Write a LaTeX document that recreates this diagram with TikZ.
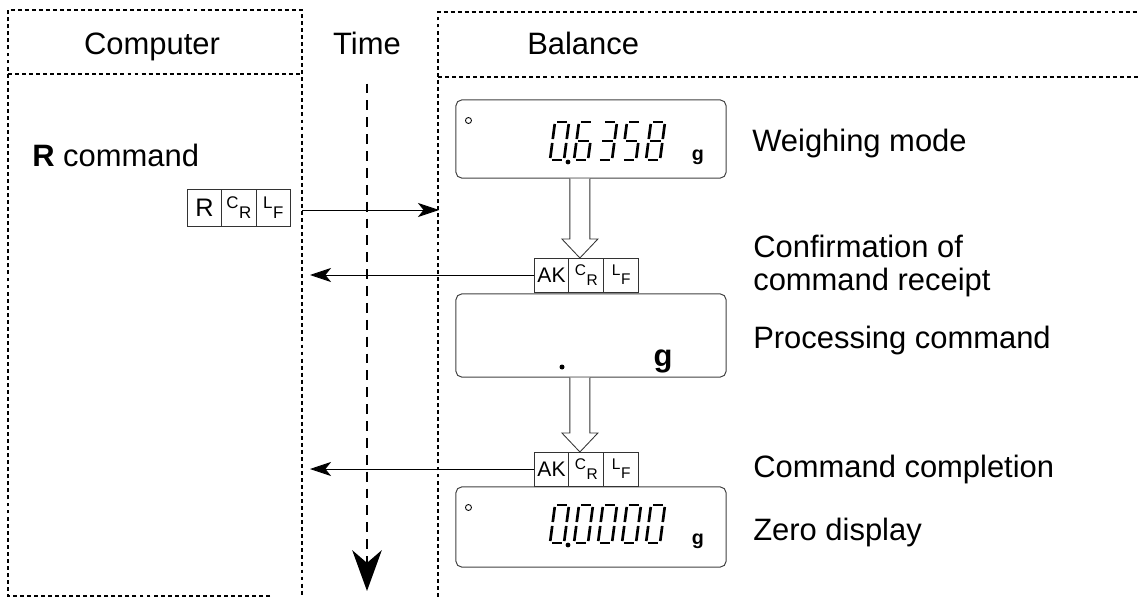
\documentclass[tikz,border=0pt]{standalone}
\usepackage{fontspec}
\setmainfont{Liberation Sans}
\usetikzlibrary{calc, positioning}
\usetikzlibrary{arrows.meta}

% segment lists of the display digits
\def\dzero{tl/tr,tr/mr,mr/br,bl/br,bl/ml,ml/tl}
\def\dsix{tl/tr,mr/br,bl/br,bl/ml,ml/tl,ml/mr}
\def\dthree{tl/tr,tr/mr,mr/br,bl/br,ml/mr}
\def\dfive{tl/tr,mr/br,bl/br,ml/tl,ml/mr}
\def\deight{tl/tr,tr/mr,mr/br,bl/br,bl/ml,ml/tl,ml/mr}

% seven-segment digit: x, y of lower left, segments
\newcommand{\lcddigit}[3]{%
  \begin{scope}[shift={(#1,#2)}]
    \coordinate (bl) at (0,0);
    \coordinate (br) at (14,0);
    \coordinate (ml) at (2.5,-19);
    \coordinate (mr) at (16.5,-19);
    \coordinate (tl) at (5,-38);
    \coordinate (tr) at (19,-38);
    \foreach \p/\q in #3 {\draw[lcdseg] (\p) -- (\q);}
  \end{scope}}

% open block arrow: from (top) to (tip)
\newcommand{\hollowarrow}[2]{%
  \draw[hollow] ($(#1)+(-10,0)$) -- ($(#2)+(-10,-19)$) -- ($(#2)+(-18,-19)$)
    -- (#2) -- ($(#2)+(18,-19)$) -- ($(#2)+(10,-19)$) -- ($(#1)+(10,0)$);}

\newcommand{\twochar}[2]{\raisebox{0.32em}{#1}\kern0.04em\raisebox{-0.28em}{#2}}

\begin{document}
\begin{tikzpicture}[x=0.025cm, y=-0.025cm,
    font=\fontsize{22}{26}\selectfont,
    frame/.style={line width=1.1pt, dash pattern=on 2.8pt off 2.2pt},
    timeline/.style={line width=1pt, dash pattern=on 7pt off 5pt,
      -{Stealth[length=29pt, width=21pt, inset=9pt]}},
    msg/.style={line width=0.6pt, -{Stealth[length=15pt, width=10pt, inset=4pt]}},
    lcd/.style={draw=black!75, line width=0.7pt, rounded corners=4pt,
      minimum width=6.75cm, inner sep=0pt},
    lcdseg/.style={line width=1.9pt, shorten <=1.4pt, shorten >=1.4pt},
    charbox/.style={draw=black!80, line width=0.6pt, minimum width=0.87cm,
      minimum height=0.85cm, inner sep=0pt, outer sep=0pt,
      font=\fontsize{11}{11}\selectfont},
    hollow/.style={draw=black!80, line width=0.6pt, fill=white},
    lbl/.style={anchor=base west, inner sep=0pt}]
\useasboundingbox (0,0) rectangle (1139,597);

% frames
\draw[frame] (270,596) -- (8,596) -- (8,10) -- (302,10) -- (302,597);
\draw[frame] (8,74) -- (302,74);
\draw[frame] (438,597) -- (438,12) -- (1139,12);
\draw[frame] (438,77) -- (1139,77);

\node[anchor=base, inner sep=0pt] (comp) at (152,55) {Computer};
\node[anchor=base, inner sep=0pt] (time) at (367,55) {Time};
\node[lbl] (bal) at (527,55) {Balance};

% time axis
\coordinate (tend) at (367,591);
\draw[timeline] ([yshift=-0.7cm]time.south) -- (tend);

% computer side
\node[lbl] (rcmd) at (32,167) {\textbf{R} command};
\node[charbox, minimum width=0.86cm, minimum height=0.925cm,
  font=\fontsize{18}{18}\selectfont] (rr) at (204.5,207.5) {R};
\node[charbox, minimum width=0.86cm, minimum height=0.925cm,
  font=\fontsize{12}{12}\selectfont, right=0pt of rr] (rcr) {\twochar{C}{R}};
\node[charbox, minimum width=0.86cm, minimum height=0.925cm,
  font=\fontsize{12}{12}\selectfont, right=0pt of rcr] (rlf) {\twochar{L}{F}};

\coordinate (pcout) at (302,210);
\coordinate (balin) at (439,210);
\draw[msg] (pcout) -- (balin);

% displays
\node[lcd, minimum height=1.95cm] (wdisp) at (591,139) {};
\node[lcd, minimum height=2.075cm] (pdisp) at (591,335.5) {};
\node[lcd, minimum height=2cm] (zdisp) at (591,527) {};

\draw[line width=0.6pt] ($(wdisp.north west)+(13,21)$) circle (3);
\lcddigit{550}{160}{\dzero}
\lcddigit{574}{160}{\dsix}
\lcddigit{598}{160}{\dthree}
\lcddigit{622}{160}{\dfive}
\lcddigit{646}{160}{\deight}
\fill (568,162) circle (2.4);
\node[anchor=base, inner sep=0pt, font=\bfseries\fontsize{14}{14}\selectfont] (wg) at (698,161) {g};

\fill (562,367) circle (2.5);
\node[anchor=base, inner sep=0pt, font=\bfseries\fontsize{22}{22}\selectfont] (pg) at (663,366) {g};

\draw[line width=0.6pt] ($(zdisp.north west)+(13,21)$) circle (3);
\lcddigit{550}{543}{\dzero}
\lcddigit{574}{543}{\dzero}
\lcddigit{598}{543}{\dzero}
\lcddigit{622}{543}{\dzero}
\lcddigit{646}{543}{\dzero}
\fill (568,545) circle (2.4);
\node[anchor=base, inner sep=0pt, font=\bfseries\fontsize{14}{14}\selectfont] (zg) at (698,544) {g};

% acknowledge blocks
\node[charbox, font=\fontsize{15}{15}\selectfont] (ak1) at (551.5,275) {AK};
\node[charbox, right=0pt of ak1] (cr1) {\twochar{C}{R}};
\node[charbox, right=0pt of cr1] (lf1) {\twochar{L}{F}};
\node[charbox, font=\fontsize{15}{15}\selectfont] (ak2) at (551.5,469) {AK};
\node[charbox, right=0pt of ak2] (cr2) {\twochar{C}{R}};
\node[charbox, right=0pt of cr2] (lf2) {\twochar{L}{F}};

\coordinate (tipA) at ($(cr1.north west)+(11,0)$);
\coordinate (topA) at (wdisp.south -| tipA);
\hollowarrow{topA}{tipA}
\coordinate (tipB) at ($(cr2.north west)+(11,0)$);
\coordinate (topB) at (pdisp.south -| tipB);
\hollowarrow{topB}{tipB}

\coordinate (pcin) at (310,0);
\draw[msg] (ak1.west) -- (ak1.west -| pcin);
\draw[msg] (ak2.west) -- (ak2.west -| pcin);

% state labels
\node[lbl] (wlbl) at (752,152) {Weighing mode};
\node[lbl] (clbl) at (753,258) {Confirmation of};
\node[lbl] (clbl2) at (753,290) {command receipt};
\node[lbl] (plbl) at (753,348) {Processing command};
\node[lbl] (cplbl) at (753,477) {Command completion};
\node[lbl] (zlbl) at (753,540) {Zero display};
\end{tikzpicture}
\end{document}
